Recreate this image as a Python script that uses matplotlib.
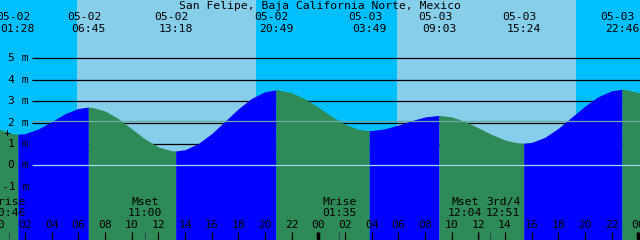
import matplotlib
matplotlib.use('Agg')
import matplotlib.pyplot as plt

title = 'San Felipe, Baja California Norte, Mexico'

# tide extremes (high / low)
extreme_dates = ['05-02', '05-02', '05-02', '05-02', '05-03', '05-03', '05-03', '05-03']
extreme_times = ['01:28', '06:45', '13:18', '20:49', '03:49', '09:03', '15:24', '22:46']
extreme_m = [1.45, 2.72, 0.67, 3.52, 1.62, 2.33, 1.03, 3.55]

# tide curve (hours from 05-02 00:00, metres)
curve_hours = [0, 1, 1.467, 2, 3, 4, 5, 6, 6.75, 7, 8, 9, 10, 11, 12, 13, 13.3,
               14, 15, 16, 17, 18, 19, 20, 20.817, 21, 22, 23, 24, 25, 26, 27,
               27.817, 28, 29, 30, 31, 32, 33, 33.05, 34, 35, 36, 37, 38, 39,
               39.4, 40, 41, 42, 43, 44, 45, 46, 46.767, 47, 48, 49]
curve_m = [1.69, 1.48, 1.45, 1.48, 1.70, 2.04, 2.41, 2.66, 2.72, 2.71, 2.54, 2.18,
           1.71, 1.23, 0.86, 0.68, 0.67, 0.73, 1.02, 1.48, 2.06, 2.64, 3.13, 3.44,
           3.52, 3.52, 3.39, 3.10, 2.71, 2.28, 1.92, 1.68, 1.62, 1.62, 1.71, 1.88,
           2.09, 2.26, 2.33, 2.33, 2.26, 2.05, 1.75, 1.44, 1.18, 1.04, 1.03, 1.07,
           1.31, 1.73, 2.25, 2.77, 3.21, 3.48, 3.55, 3.54, 3.40, 3.09]

sunrise_hours = [5.9, 29.9]
sunset_hours = [19.33, 43.33]

moon_names = ['Mrise', 'Mset', 'Mrise', 'Mset', '3rd/4']
moon_times = ['00:46', '11:00', '01:35', '12:04', '12:51']
moon_days = [0, 0, 1, 1, 1]

msl_m = 2.07
y_levels = [-1, 0, 1, 2, 3, 4, 5]

NIGHT = '#00BFFF'
DAY = '#87CEEB'
RISING = '#0000FF'
FALLING = '#2E8B57'


def to_hours(day, hhmm):
    h, m = hhmm.split(':')
    return day * 24 + int(h) + int(m) / 60


def px(x):
    # pixel column -> hours
    return x / 13.333 + 0.125


def py(y):
    # pixel row -> metres
    return (165.3 - y) / 21.4


extreme_days = [0 if d == '05-02' else 1 for d in extreme_dates]
extreme_hours = [to_hours(d, t) for d, t in zip(extreme_days, extreme_times)]
moon_hours = [to_hours(d, t) for d, t in zip(moon_days, moon_times)]

x0, x1 = 0.125, 48.125
ybot, ytop = py(240), py(0)

fig = plt.figure(figsize=(6.4, 2.4), dpi=100)
ax = fig.add_axes([0, 0, 1, 1])
ax.set_xlim(x0, x1)
ax.set_ylim(ybot, ytop)
ax.axis('off')
fig.patch.set_facecolor(NIGHT)

# sky
ax.axvspan(x0 - 1, x1 + 1, color=NIGHT, lw=0, zorder=0)
for r, s in zip(sunrise_hours, sunset_hours):
    ax.axvspan(r, s, color=DAY, lw=0, zorder=0)

# grid lines behind the water
ax.hlines([1, 2, 3, 4, 5], px(32), x1, color='black', lw=0.9, zorder=1)

# water, coloured by tide phase (rising up to a high, falling down to a low)
n = len(extreme_m)
is_high = [extreme_m[i] > extreme_m[i + 1] if i + 1 < n else extreme_m[i] > extreme_m[i - 1]
           for i in range(n)]
bounds = [-10] + extreme_hours + [60]
for i in range(len(bounds) - 1):
    a, b = bounds[i] - 0.01, bounds[i + 1] + 0.01
    rising = is_high[i] if i < n else not is_high[-1]
    xs = [h for h in curve_hours if a <= h <= b]
    ys = [m for h, m in zip(curve_hours, curve_m) if a <= h <= b]
    ax.fill_between(xs, ys, ybot, color=RISING if rising else FALLING,
                    lw=0, zorder=2)

# datum and mean sea level lines
ax.hlines(0, px(32), x1, color='#a0d8f0', lw=0.9, zorder=3)
ax.hlines(msl_m, px(32), x1, color='#6aaca4', lw=0.9, zorder=3)

font = dict(family='DejaVu Sans Mono', fontsize=8.2, color='black', zorder=5)

for m in y_levels:
    ax.text(px(29), m, f'{m} m', ha='right', va='center', **font)
ax.text(px(7), py(132.5), '+', ha='center', va='center', **font)

ax.text(px(320), py(6), title, ha='center', va='center', **font)
for h, d, t in zip(extreme_hours, extreme_dates, extreme_times):
    ax.text(h - 0.3, py(17), d, ha='center', va='center', **font)
    ax.text(h, py(29), t, ha='center', va='center', **font)

# hour ticks
for h in range(0, 50, 2):
    if h % 24 == 0:
        ax.vlines(h, py(232), ybot, color='black', lw=2.5, zorder=4)
    else:
        ax.vlines(h, py(232), ybot, color='black', lw=0.9, zorder=4)
    ax.text(h, py(225), f'{h % 24:02d}', ha='center', va='center', **font)

# moon events
shift = [0, 0, 0, -1.05, 1.0]
for h, name, t, s in zip(moon_hours, moon_names, moon_times, shift):
    ax.vlines(h, py(232), ybot, color='#2f4f4f', lw=0.8, zorder=4)
    ax.text(h + s, py(202), name, ha='center', va='center', **font)
    ax.text(h + s, py(213), t, ha='center', va='center', **font)

fig.savefig('out.png', dpi=100, facecolor=NIGHT)
